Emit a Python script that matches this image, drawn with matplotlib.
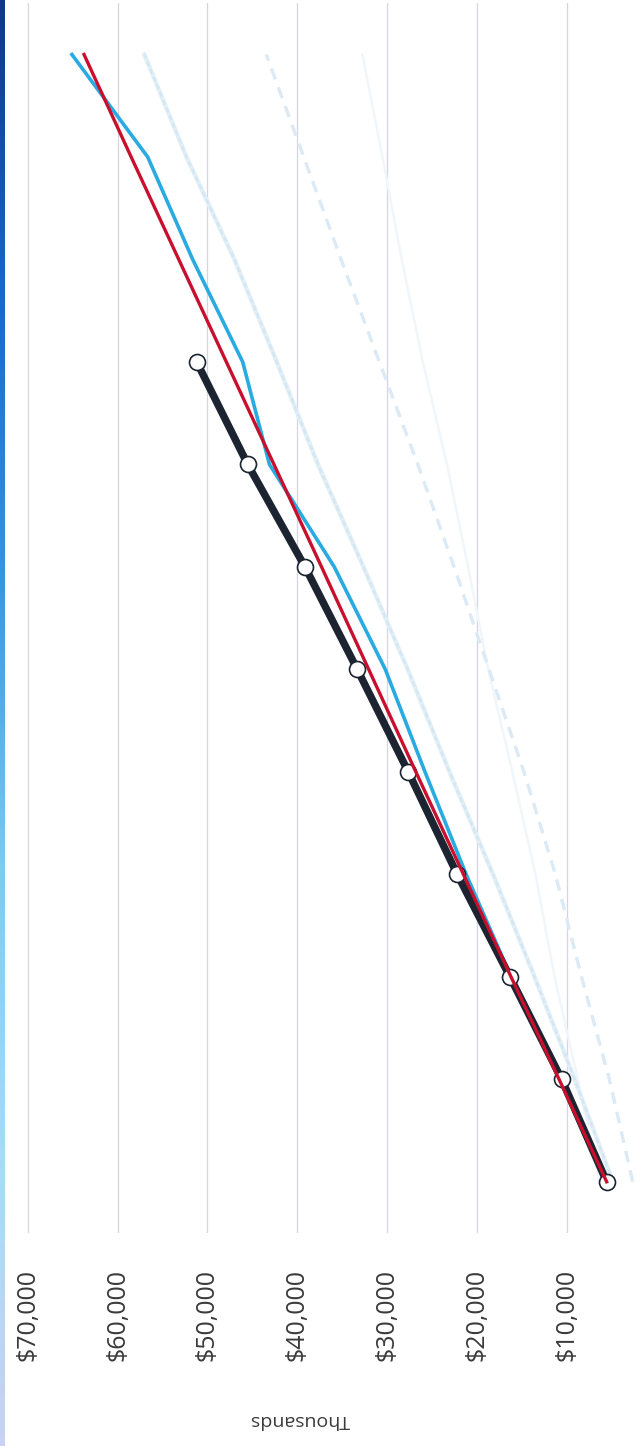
import numpy as np
import matplotlib
matplotlib.use("Agg")
import matplotlib.pyplot as plt
from matplotlib.colors import LinearSegmentedColormap

# ---- data (values in dollars, one point per period, bottom -> top) ----
periods = list(range(12))
actual = [5550, 10560, 16320, 22190, 27640, 33320, 39140, 45520, 51200]
target = [5550, 10850, 16200, 21500, 26800, 32050, 37300, 42600, 47900, 53200, 58500, 63750]
projected = [5550, 10650, 16200, 21200, 25780, 30200, 35880, 43100, 46080, 51650, 56660, 65100]
scenario_a = [4860, 9110, 13580, 18200, 23050, 27700, 32630, 37700, 42280, 47000, 52340, 57030]
scenario_b = [2650, 5250, 8350, 11260, 14760, 18650, 22540, 26580, 30860, 35120, 39280, 43460]
scenario_c = [6300, 8770, 11350, 13480, 16050, 18730, 20980, 23330, 26020, 28370, 30510, 32750]
tick_values = [10000, 20000, 30000, 40000, 50000, 60000, 70000]
tick_labels = ["$10,000", "$20,000", "$30,000", "$40,000", "$50,000", "$60,000", "$70,000"]
unit_label = "Thousands"

W, H = 637, 1446
fig = plt.figure(figsize=(W / 100, H / 100), dpi=100)
fig.patch.set_facecolor("white")

# left edge colour strip
strip = fig.add_axes([0, 0, 5 / W, 1])
cmap = LinearSegmentedColormap.from_list(
    "edge", ["#c9d2f2", "#a6dcf5", "#7ccbf1", "#3596e2", "#1668cc", "#12358a"])
strip.imshow(np.linspace(0, 1, 256).reshape(-1, 1), aspect="auto", cmap=cmap,
             origin="lower", extent=[0, 1, 0, 1])
strip.set_axis_off()

ax = fig.add_axes([12 / W, 1 - 1233 / H, 1 - 12 / W, (1233 - 3.25) / H])
ax.set_facecolor("white")

for v in tick_values:
    ax.axvline(v, color="#d6d6e2", lw=0.9, zorder=0)

ax.plot(scenario_c, periods, color="#f1f6fa", lw=1.8, zorder=1)
ax.plot(scenario_b, periods, color="#dbeaf4", lw=2.4, zorder=1,
        dashes=(3.5, 2.5))
ax.plot(scenario_a, periods, color="#e2eff7", lw=3.2, zorder=1)
ax.plot(scenario_a, periods, color="#d3e6f2", lw=1.5, zorder=1, dashes=(2.5, 1.5))

ax.plot(projected, periods[:len(projected)], color="#29abe2", lw=2.6, zorder=2)
ax.plot(actual, periods[:len(actual)], color="#1b2430", lw=5.4, zorder=3,
        marker="o", markersize=11.5, markerfacecolor="white",
        markeredgecolor="#1b2430", markeredgewidth=1.2)
ax.plot(target, periods, color="#c8102e", lw=2.4, zorder=4)

ax.set_xlim(71770, 2170)
ax.set_ylim(-0.5, 11.5)
ax.set_xticks(tick_values)
ax.set_xticklabels(tick_labels, rotation=90, fontsize=18, color="#3a3a3a",
                   family="Open Sans", va="top")
ax.tick_params(axis="x", length=0, pad=26)
ax.set_yticks([])
for s in ax.spines.values():
    s.set_visible(False)

fig.text(300 / W, 1 - 1420 / H, unit_label, rotation=180, ha="center", va="center",
         fontsize=14, color="#3a3a3a", family="Open Sans")

fig.savefig("out.png", dpi=100, facecolor="white")
